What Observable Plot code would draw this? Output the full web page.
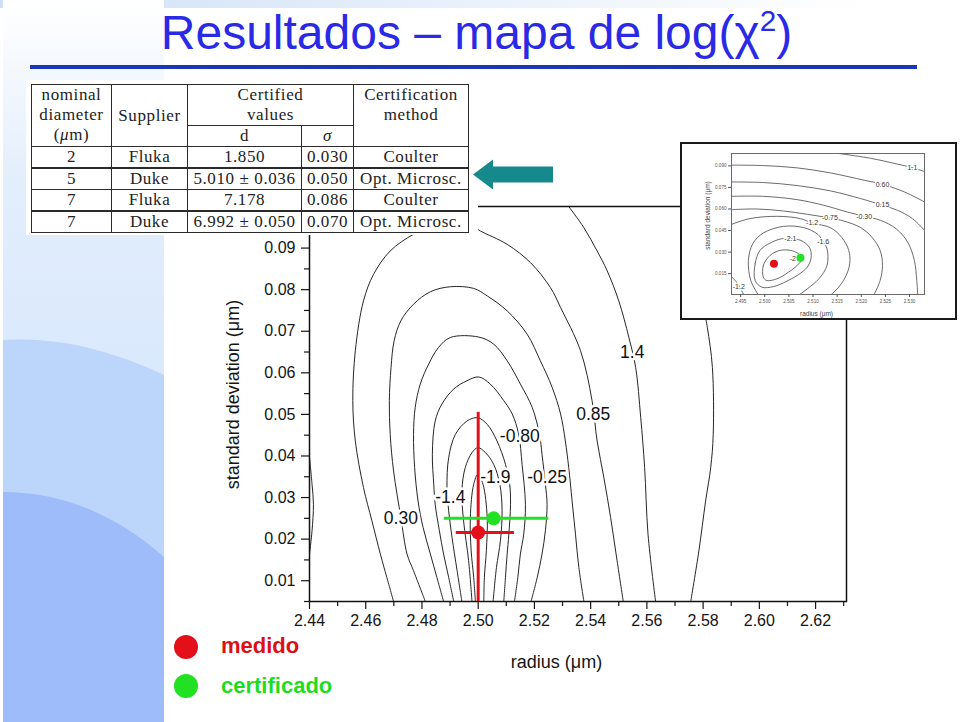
<!DOCTYPE html>
<html><head><meta charset="utf-8">
<script src="https://cdn.jsdelivr.net/npm/d3@7"></script>
<script src="https://cdn.jsdelivr.net/npm/@observablehq/plot@0.6"></script>
<style>
html,body{margin:0;padding:0;}
body{width:960px;height:722px;position:relative;overflow:hidden;background:#fff;font-family:Arial,"Liberation Sans",sans-serif;}
.abs{position:absolute;}
#title{left:0;top:9px;width:953px;text-align:center;font-size:48px;line-height:48px;color:#2a2ae6;white-space:nowrap;z-index:3;}
#title sup{font-size:0.62em;line-height:0;vertical-align:0.62em;}
#rule{left:30px;top:65px;width:887px;height:4px;background:#1b36b8;z-index:3;}
#tblbox{left:26px;top:80px;width:452px;height:155px;background:#fff;z-index:4;}
#tbl{position:absolute;left:5px;top:4px;border-collapse:collapse;font-family:"Liberation Serif","DejaVu Serif",serif;font-size:17px;letter-spacing:0.6px;color:#222;}
#tbl td{border:1px solid #2a2a2a;padding:0;text-align:center;line-height:20px;white-space:nowrap;}
#tbl td.top{vertical-align:top;}
#tbl tr.thick td{border-top:2px solid #2a2a2a;}
#main{left:200px;top:190px;z-index:1;}
#insetBox{left:680px;top:142px;width:277px;height:178px;box-sizing:border-box;border:2px solid #1a1a1a;background:#fff;z-index:4;}
#inset{position:absolute;left:0;top:0;}
.leg{z-index:3;font-weight:bold;font-size:22px;}
.dot{width:24px;height:24px;border-radius:50%;z-index:3;}
</style></head>
<body>
<svg class="abs" style="left:0;top:0;z-index:0" width="960" height="722">
  <defs>
    <linearGradient id="topg" x1="0" x2="1" y1="0" y2="0">
      <stop offset="0" stop-color="#cfe0f6"/><stop offset="0.9" stop-color="#ffffff"/>
    </linearGradient>
    <linearGradient id="leftg" x1="0" x2="0" y1="0" y2="1">
      <stop offset="0" stop-color="#ffffff"/><stop offset="0.25" stop-color="#e3eefc"/><stop offset="0.6" stop-color="#d6e7fc"/>
    </linearGradient>
  </defs>
  <rect x="0" y="0" width="960" height="8" fill="url(#topg)"/>
  <rect x="3" y="0" width="161" height="722" fill="url(#leftg)"/>
  <path d="M3,340 Q80,335 164,375 L164,722 L3,722 Z" fill="#bcd5fa"/>
  <path d="M3,492 Q90,492 164,557 L164,722 L3,722 Z" fill="#9dbcf9"/>
</svg>

<div id="title" class="abs">Resultados – mapa de log(χ<sup>2</sup>)</div>
<div id="rule" class="abs"></div>

<div id="tblbox" class="abs"><table id="tbl"></table></div>

<svg class="abs" style="left:0;top:0;z-index:5" width="960" height="722">
  <polygon points="473,174.5 493,159.5 493,166.5 553,166.5 553,182.5 493,182.5 493,189.5" fill="#15898c"/>
</svg>

<div id="main" class="abs"></div>
<div id="insetBox" class="abs"><div id="inset"></div></div>

<div class="abs dot" style="left:174px;top:635px;background:#e3101a"></div>
<div class="abs leg" style="left:221px;top:633px;color:#dd0f16">medido</div>
<div class="abs dot" style="left:174px;top:674px;background:#22e022"></div>
<div class="abs leg" style="left:221px;top:673px;color:#1fdc1f">certificado</div>

<script>
// ---------- table data ----------
const tblNominal = ["2", "5", "7", "7"];
const tblSupplier = ["Fluka", "Duke", "Fluka", "Duke"];
const tblD = ["1.850", "5.010 ± 0.036", "7.178", "6.992 ± 0.050"];
const tblSigma = ["0.030", "0.050", "0.086", "0.070"];
const tblMethod = ["Coulter", "Opt. Microsc.", "Coulter", "Opt. Microsc."];

// ---------- main chart axes ----------
const xMajor = [2.44, 2.46, 2.48, 2.50, 2.52, 2.54, 2.56, 2.58, 2.60, 2.62];
const xMinor = [2.45, 2.47, 2.49, 2.51, 2.53, 2.55, 2.57, 2.59, 2.61, 2.63];
const yMajor = [0.01, 0.02, 0.03, 0.04, 0.05, 0.06, 0.07, 0.08, 0.09];
const yMinor = [0.005, 0.015, 0.025, 0.035, 0.045, 0.055, 0.065, 0.075, 0.085, 0.095];

// ---------- main chart contours (radius, std dev) ----------
const cLeftEdge = [[2.4400,0.0396],[2.4409,0.0332],[2.4414,0.0284],[2.4409,0.0220],[2.4400,0.0164]];
const c195 = [[2.5797,0.0773],[2.5815,0.0709],[2.5833,0.0613],[2.5836,0.0452],[2.5827,0.0372],[2.5809,0.0292],[2.5785,0.0172],[2.5756,0.0050]];
const c140 = [[2.5322,0.1000],[2.5376,0.0949],[2.5423,0.0893],[2.5459,0.0845],[2.5500,0.0773],[2.5536,0.0685],[2.5560,0.0613],[2.5578,0.0493],[2.5592,0.0372],[2.5604,0.0212],[2.5631,0.0050]];
const c085 = [[2.4699,0.0050],[2.4675,0.0108],[2.4652,0.0164],[2.4622,0.0244],[2.4592,0.0324],[2.4563,0.0436],[2.4554,0.0533],[2.4563,0.0653],[2.4592,0.0773],[2.4628,0.0837],[2.4687,0.0893],[2.4770,0.0933],[2.4842,0.0951],[2.4913,0.0959],[2.4984,0.0951],[2.5008,0.0941],[2.5103,0.0909],[2.5186,0.0865],[2.5257,0.0805],[2.5293,0.0757],[2.5364,0.0653],[2.5405,0.0533],[2.5423,0.0436],[2.5447,0.0348],[2.5471,0.0252],[2.5494,0.0148],[2.5516,0.0050]];
const c030 = [[2.4812,0.0050],[2.4770,0.0124],[2.4747,0.0164],[2.4725,0.0252],[2.4699,0.0364],[2.4687,0.0452],[2.4684,0.0533],[2.4690,0.0613],[2.4701,0.0677],[2.4725,0.0725],[2.4770,0.0765],[2.4830,0.0795],[2.4901,0.0807],[2.4984,0.0803],[2.5032,0.0785],[2.5103,0.0749],[2.5174,0.0693],[2.5221,0.0629],[2.5263,0.0565],[2.5293,0.0501],[2.5310,0.0436],[2.5322,0.0372],[2.5334,0.0292],[2.5346,0.0212],[2.5358,0.0132],[2.5376,0.0050]];
const cm025 = [[2.4877,0.0050],[2.4853,0.0108],[2.4830,0.0164],[2.4804,0.0228],[2.4786,0.0292],[2.4774,0.0372],[2.4770,0.0452],[2.4776,0.0517],[2.4794,0.0573],[2.4824,0.0621],[2.4859,0.0661],[2.4901,0.0685],[2.5002,0.0686],[2.5055,0.0669],[2.5103,0.0629],[2.5150,0.0573],[2.5192,0.0517],[2.5218,0.0452],[2.5227,0.0404],[2.5239,0.0332],[2.5245,0.0284],[2.5239,0.0220],[2.5227,0.0164],[2.5210,0.0108],[2.5188,0.0050]];
const cm080 = [[2.4913,0.0050],[2.4895,0.0108],[2.4877,0.0164],[2.4862,0.0220],[2.4847,0.0284],[2.4842,0.0332],[2.4837,0.0404],[2.4847,0.0484],[2.4871,0.0525],[2.4913,0.0561],[2.4960,0.0581],[2.5002,0.0590],[2.5043,0.0573],[2.5091,0.0533],[2.5121,0.0501],[2.5144,0.0452],[2.5156,0.0380],[2.5168,0.0284],[2.5162,0.0212],[2.5150,0.0164],[2.5141,0.0108],[2.5129,0.0050]];
const cm140 = [[2.4942,0.0050],[2.4925,0.0124],[2.4907,0.0204],[2.4895,0.0268],[2.4889,0.0324],[2.4895,0.0396],[2.4919,0.0452],[2.4960,0.0484],[2.4998,0.0492],[2.5032,0.0476],[2.5067,0.0436],[2.5097,0.0380],[2.5112,0.0332],[2.5115,0.0284],[2.5109,0.0212],[2.5103,0.0164],[2.5097,0.0108],[2.5091,0.0050]];
const cm190 = [[2.4978,0.0050],[2.4966,0.0148],[2.4948,0.0244],[2.4942,0.0316],[2.4954,0.0372],[2.4978,0.0408],[2.4999,0.0420],[2.5026,0.0408],[2.5055,0.0380],[2.5077,0.0332],[2.5085,0.0268],[2.5079,0.0196],[2.5065,0.0132],[2.5053,0.0050]];
const cm245 = [[2.4990,0.0050],[2.4984,0.0108],[2.4975,0.0172],[2.4972,0.0252],[2.4984,0.0332],[2.4999,0.0356],[2.5017,0.0332],[2.5032,0.0252],[2.5029,0.0172],[2.5022,0.0108],[2.5020,0.0050]];

const mainLabelText = ["1.4", "0.85", "0.30", "-0.25", "-0.80", "-1.9", "-1.4"];
const mainLabelX = [2.5548, 2.5409, 2.4725, 2.5245, 2.5148, 2.5061, 2.4901];
const mainLabelY = [0.0649, 0.0499, 0.0251, 0.0348, 0.0448, 0.0348, 0.0300];

// measured (red) and certified (green) points with error bars
const pointNames = ["medido", "certificado"];
const pointR = [2.5000, 2.5055];
const pointS = [0.0216, 0.0250];
const pointRLow = [2.4922, 2.4880];
const pointRHigh = [2.5129, 2.5251];
const pointSLow = [-0.0073, null];
const pointSHigh = [0.0505, null];
const pointColors = ["#e3101a", "#22e022"];

// ---------- inset chart ----------
const insetXTicks = [2.495, 2.500, 2.505, 2.510, 2.515, 2.520, 2.525, 2.530];
const insetYTicks = [0.015, 0.030, 0.045, 0.060, 0.075, 0.090];
const i110 = [[2.5153,0.0986],[2.5219,0.0953],[2.5275,0.0912],[2.5306,0.0888],[2.5331,0.0860]];
const i060 = [[2.4931,0.0905],[2.4997,0.0902],[2.5067,0.0886],[2.5136,0.0851],[2.5206,0.0800],[2.5244,0.0772],[2.5289,0.0719],[2.5331,0.0649]];
const i015 = [[2.4931,0.0788],[2.4997,0.0784],[2.5067,0.0763],[2.5136,0.0726],[2.5199,0.0672],[2.5244,0.0626],[2.5275,0.0591],[2.5306,0.0533],[2.5331,0.0451]];
const im030 = [[2.4931,0.0688],[2.4997,0.0688],[2.5067,0.0665],[2.5122,0.0626],[2.5171,0.0579],[2.5206,0.0549],[2.5240,0.0521],[2.5272,0.0463],[2.5296,0.0370],[2.5310,0.0242],[2.5315,0.0102],[2.5317,0.0000]];
const im075 = [[2.4931,0.0595],[2.4983,0.0600],[2.5039,0.0586],[2.5088,0.0563],[2.5135,0.0537],[2.5164,0.0516],[2.5199,0.0470],[2.5223,0.0400],[2.5239,0.0312],[2.5244,0.0207],[2.5239,0.0102],[2.5226,0.0000]];
const im120 = [[2.4931,0.0493],[2.4969,0.0533],[2.5025,0.0549],[2.5074,0.0533],[2.5098,0.0502],[2.5136,0.0470],[2.5160,0.0400],[2.5174,0.0312],[2.5176,0.0219],[2.5167,0.0126],[2.5150,0.0044],[2.5136,0.0000]];
const im120b = [[2.4931,0.0130],[2.4943,0.0084],[2.4957,0.0000]];
const im160 = [[2.4987,0.0000],[2.4971,0.0102],[2.4966,0.0242],[2.4975,0.0358],[2.4997,0.0433],[2.5039,0.0479],[2.5081,0.0470],[2.5110,0.0423],[2.5121,0.0370],[2.5129,0.0323],[2.5129,0.0207],[2.5112,0.0114],[2.5088,0.0044],[2.5070,0.0000]];
const im210 = [[2.4980,0.0102],[2.4980,0.0219],[2.4990,0.0312],[2.5011,0.0363],[2.5035,0.0393],[2.5053,0.0393],[2.5075,0.0381],[2.5093,0.0330],[2.5096,0.0260],[2.5088,0.0195],[2.5070,0.0144],[2.5046,0.0098],[2.5018,0.0060],[2.4994,0.0056]];
const im255 = [[2.4997,0.0126],[2.4997,0.0207],[2.5011,0.0277],[2.5032,0.0312],[2.5053,0.0312],[2.5070,0.0288],[2.5077,0.0253],[2.5067,0.0207],[2.5049,0.0160],[2.5025,0.0114],[2.5004,0.0102]];
const insetLabelText = ["1.1", "0.60", "0.15", "-0.30", "-0.75", "-1.2", "-1.6", "-2.1", "-2", "-1.2"];
const insetLabelX = [2.5306, 2.5244, 2.5244, 2.5206, 2.5135, 2.5098, 2.5121, 2.5053, 2.5058, 2.4946];
const insetLabelY = [0.0888, 0.0772, 0.0626, 0.0549, 0.0537, 0.0502, 0.0370, 0.0393, 0.0253, 0.0056];
const insetPointR = [2.5019, 2.5074];
const insetPointS = [0.0219, 0.0260];

// ---------- build table ----------
const tbl = document.getElementById("tbl");
const colW = [80, 76, 114, 52, 115];
let html = "<colgroup>" + colW.map(w => `<col style="width:${w}px">`).join("") + "</colgroup>";
html += `<tr style="height:41px"><td rowspan="2" class="top">nominal<br>diameter<br>(<i>μ</i>m)</td><td rowspan="2">Supplier</td><td colspan="2" class="top">Certified<br>values</td><td rowspan="2" class="top">Certification<br>method</td></tr>`;
html += `<tr style="height:19px"><td>d</td><td><i>σ</i></td></tr>`;
tblNominal.forEach((n, i) => {
  html += `<tr style="height:20px" class="${i % 2 ? "thick" : ""}"><td>${n}</td><td>${tblSupplier[i]}</td><td>${tblD[i]}</td><td>${tblSigma[i]}</td><td>${tblMethod[i]}</td></tr>`;
});
tbl.innerHTML = html;

// ---------- main plot ----------
const toRows = list => list.flatMap(([level, pts]) => pts.map(([x, y]) => ({level, x, y})));
const mainRows = toRows([["edge", cLeftEdge], ["1.95", c195], ["1.4", c140], ["0.85", c085], ["0.30", c030],
  ["-0.25", cm025], ["-0.80", cm080], ["-1.4", cm140], ["-1.9", cm190], ["-2.45", cm245]]);
const mainLabels = mainLabelText.map((t, i) => ({t, x: mainLabelX[i], y: mainLabelY[i]}));
const pts = pointNames.map((n, i) => ({n, r: pointR[i], s: pointS[i], rl: pointRLow[i], rh: pointRHigh[i], sl: pointSLow[i], sh: pointSHigh[i], c: pointColors[i]}));
const font = 'Arial, "Liberation Sans", sans-serif';

const main = Plot.plot({
  width: 680, height: 500,
  marginLeft: 109, marginRight: 34, marginTop: 16, marginBottom: 89,
  x: {domain: [2.44, 2.631], label: null},
  y: {domain: [0.005, 0.1], label: null},
  style: {fontFamily: font, fontSize: "16px", color: "#151515", background: "transparent", overflow: "visible"},
  marks: [
    Plot.line(mainRows, {x: "x", y: "y", z: "level", stroke: "#262626", strokeWidth: 1, curve: "catmull-rom", clip: true}),
    Plot.text(mainLabels, {x: "x", y: "y", text: "t", fontSize: 17.5, fill: "#111", stroke: "white", strokeWidth: 5}),
    Plot.frame({stroke: "#111", strokeWidth: 1.5}),
    Plot.axisX({ticks: xMinor, tickSize: 5, tickFormat: () => "", strokeWidth: 1.2}),
    Plot.axisX({ticks: xMajor, tickSize: 8, tickPadding: 5, tickFormat: d3.format(".2f"), fontSize: 16, strokeWidth: 1.2}),
    Plot.axisY({ticks: yMinor, tickSize: 5, tickFormat: () => "", strokeWidth: 1.2}),
    Plot.axisY({ticks: yMajor, tickSize: 8, tickPadding: 6, tickFormat: d3.format(".2f"), fontSize: 16, strokeWidth: 1.2}),
    Plot.text(["radius (μm)"], {text: d => d, frameAnchor: "bottom", textAnchor: "middle", lineAnchor: "middle", dx: -21.5, dy: 61, fontSize: 18}),
    Plot.text(["standard deviation (μm)"], {text: d => d, frameAnchor: "left", textAnchor: "middle", lineAnchor: "middle", rotate: -90, dx: -76, dy: -9.5, fontSize: 18}),
    Plot.ruleX(pts.filter(d => d.sl != null), {x: "r", y1: "sl", y2: "sh", stroke: "c", strokeWidth: 3, clip: true}),
    Plot.ruleY(pts, {y: "s", x1: "rl", x2: "rh", stroke: "c", strokeWidth: 3}),
    Plot.dot(pts, {x: "r", y: "s", r: 7, fill: "c"})
  ]
});
document.getElementById("main").appendChild(main);

// ---------- inset plot ----------
const insetOpen = toRows([["1.1", i110], ["0.60", i060], ["0.15", i015], ["-0.30", im030], ["-0.75", im075], ["-1.2", im120], ["-1.2b", im120b], ["-1.6", im160]]);
const insetClosed = toRows([["-2.1", im210], ["-2.55", im255]]);
const insetLabels = insetLabelText.map((t, i) => ({t, x: insetLabelX[i], y: insetLabelY[i]}));
const insetPts = pointNames.map((n, i) => ({n, r: insetPointR[i], s: insetPointS[i], c: pointColors[i]}));
const inset = Plot.plot({
  width: 273, height: 174,
  marginLeft: 49, marginRight: 31, marginTop: 9, marginBottom: 24,
  x: {domain: [2.4931, 2.5331], label: null},
  y: {domain: [0.0005, 0.0986], label: null},
  style: {fontFamily: font, fontSize: "5px", color: "#555", background: "white", overflow: "visible"},
  marks: [
    Plot.line(insetOpen, {x: "x", y: "y", z: "level", stroke: "#5a5a5a", strokeWidth: 0.9, curve: "catmull-rom", clip: true}),
    Plot.line(insetClosed, {x: "x", y: "y", z: "level", stroke: "#5a5a5a", strokeWidth: 0.9, curve: "catmull-rom-closed", clip: true}),
    Plot.text(insetLabels, {x: "x", y: "y", text: "t", fontSize: 7, fill: "#333", stroke: "white", strokeWidth: 2.5}),
    Plot.frame({stroke: "#6a6a6a", strokeWidth: 1}),
    Plot.axisX({ticks: insetXTicks, tickSize: 3, tickPadding: 2, tickFormat: d3.format(".3f"), fontSize: 4.6, fill: "#555"}),
    Plot.axisY({ticks: insetYTicks, tickSize: 3, tickPadding: 2, tickFormat: d3.format(".3f"), fontSize: 4.6, fill: "#555"}),
    Plot.text(["radius (μm)"], {text: d => d, frameAnchor: "bottom", textAnchor: "middle", lineAnchor: "middle", dx: -11.5, dy: 19.5, fontSize: 6.5, fill: "#444"}),
    Plot.text(["standard deviation (μm)"], {text: d => d, frameAnchor: "left", textAnchor: "middle", lineAnchor: "middle", rotate: -90, dx: -24, dy: -8.5, fontSize: 6.5, fill: "#444"}),
    Plot.dot(insetPts, {x: "r", y: "s", r: 4, fill: "c"})
  ]
});
document.getElementById("inset").appendChild(inset);
</script>
</body></html>
